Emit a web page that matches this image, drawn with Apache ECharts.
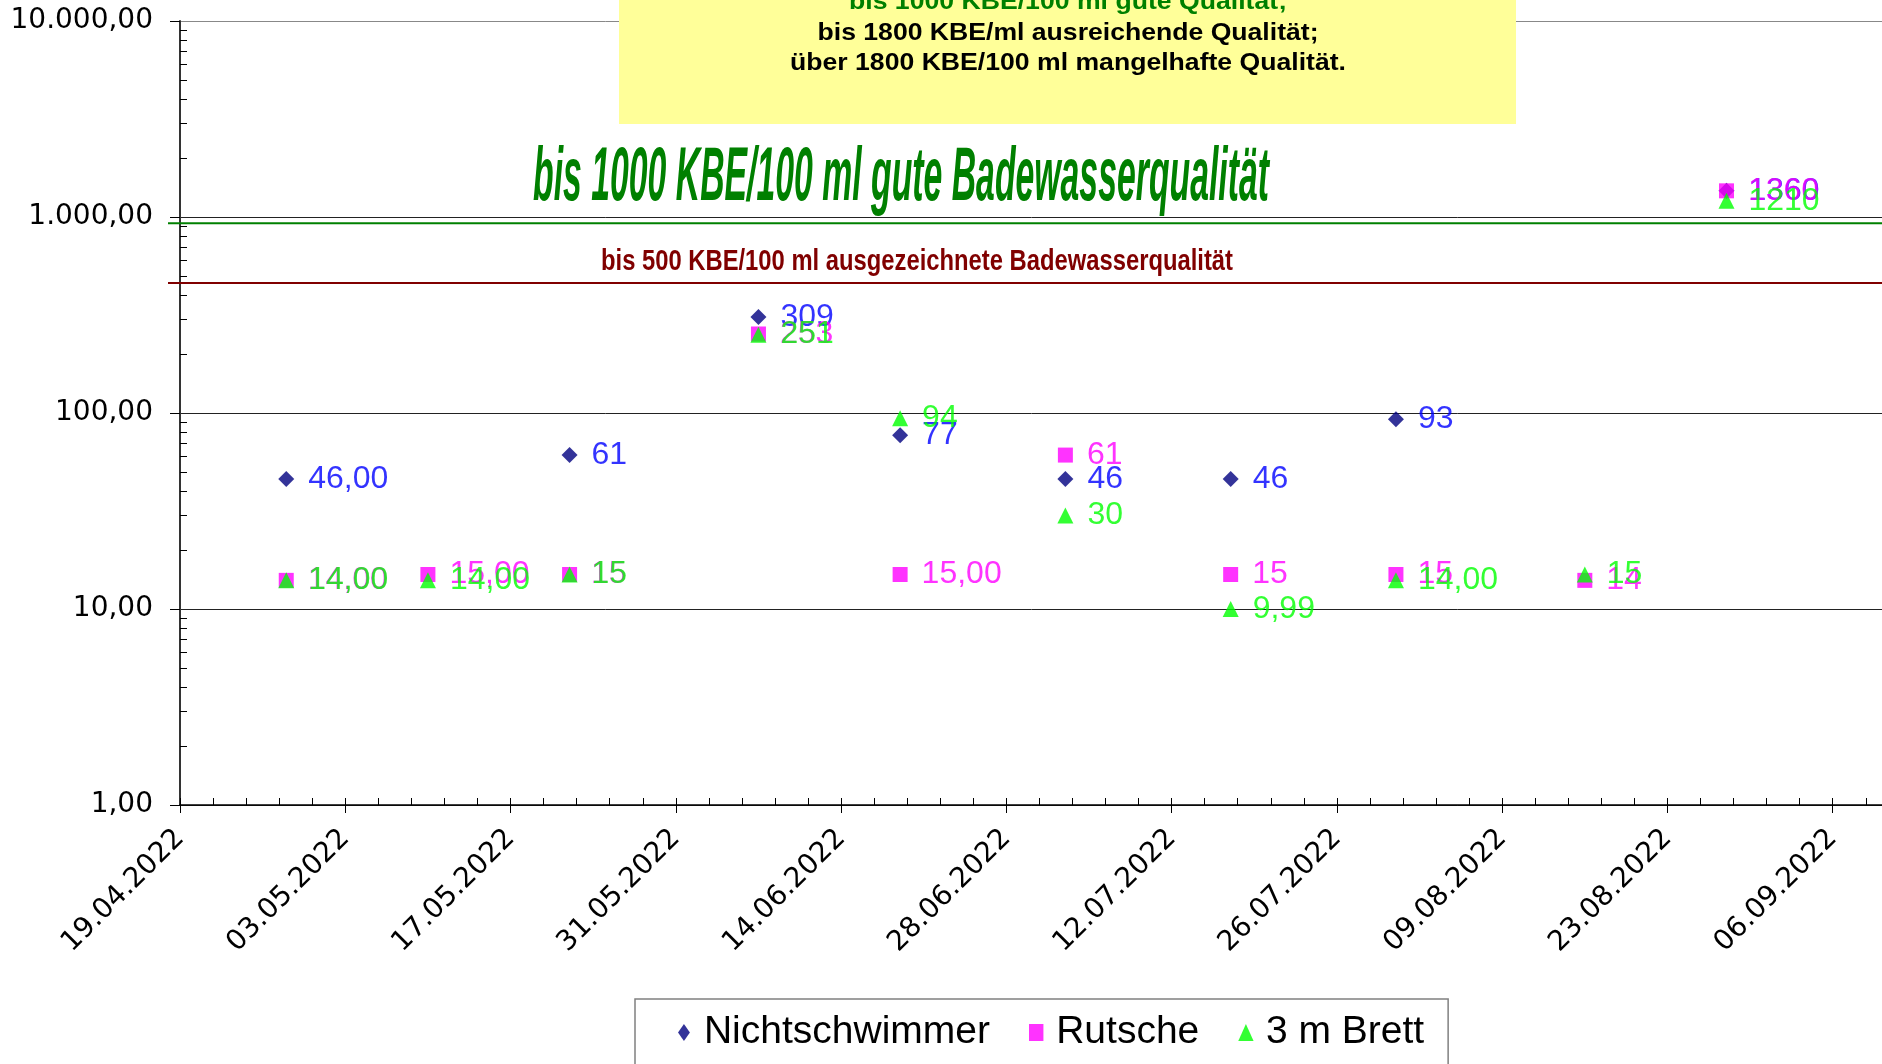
<!DOCTYPE html>
<html>
<head>
<meta charset="utf-8">
<script src="https://cdn.jsdelivr.net/npm/echarts@6/dist/echarts.min.js"></script>
<style>
html,body{margin:0;padding:0;background:#fff;}
#chart{width:1882px;height:1064px;}
</style>
</head>
<body>
<div id="chart"></div>
<script>
// ---------------- data ----------------
const AXIS_START = '19.04.2022';
const dates = ['28.04.2022','10.05.2022','22.05.2022','07.06.2022','19.06.2022','03.07.2022','17.07.2022','31.07.2022','16.08.2022','28.08.2022'];
const seriesNames = ['Nichtschwimmer', 'Rutsche', '3 m Brett'];
const nichtschwimmer = [46, null, 61, 309, 77, 46, 46, 93, null, 1360];
const rutsche        = [14, 15, 15, 253, 15, 61, 15, 15, 14, 1360];
const brett          = [14, 14, 15, 251, 94, 30, 9.99, 14, 15, 1210];
// decimals shown in each point's label
const nichtschwimmerDec = [2, null, 0, 0, 0, 0, 0, 0, null, 0];
const rutscheDec        = [2, 2, 0, 0, 2, 0, 0, 0, 0, 0];
const brettDec          = [2, 2, 0, 0, 0, 0, 2, 2, 0, 0];
const yTickValues = [1, 10, 100, 1000, 10000];
const limitGood = 930;        // green line (drawn just under 1000)
const limitExcellent = 460;   // dark red line (drawn near 500)
const boxLines = ['bis 1000 KBE/100 ml gute Qualität;', 'bis 1800 KBE/ml ausreichende Qualität;', 'über 1800 KBE/100 ml mangelhafte Qualität.'];
const bigGreenText = 'bis 1000 KBE/100 ml gute Badewasserqualität';
const redText = 'bis 500 KBE/100 ml ausgezeichnete Badewasserqualität';

// ---------------- helpers ----------------
function parseDE(s){ const p = s.split('.').map(Number); return Date.UTC(p[2], p[1]-1, p[0]); }
function dayOffset(s){ return Math.round((parseDE(s) - parseDE(AXIS_START)) / 86400000); }
function dayToDate(d){
  const t = new Date(parseDE(AXIS_START) + Math.round(d)*86400000);
  const dd = String(t.getUTCDate()).padStart(2,'0');
  const mm = String(t.getUTCMonth()+1).padStart(2,'0');
  return dd + '.' + mm + '.' + t.getUTCFullYear();
}
function fmtDE(v, dec, thousands){
  const s = v.toFixed(dec);
  let [ip, fp] = s.split('.');
  if (thousands) ip = ip.replace(/\B(?=(\d{3})+(?!\d))/g, '.');
  return fp ? ip + ',' + fp : ip;
}
function buildData(vals, decs){
  const out = [];
  dates.forEach((d, i) => { if (vals[i] != null) out.push({ value: [dayOffset(d), vals[i]], dec: decs[i] }); });
  return out;
}
const mctx = document.createElement('canvas').getContext('2d');
function fitScale(text, font, width){ mctx.font = font; return width / mctx.measureText(text).width; }

const FONT = '"Liberation Sans", Arial, sans-serif';
const AXFONT = '"DejaVu Sans", Verdana, sans-serif';

function mkSeries(name, vals, decs, symbol, size, color, labelColor){
  return {
    name, type: 'scatter', data: buildData(vals, decs),
    symbol, symbolSize: size,
    itemStyle: { color },
    label: {
      show: true, position: 'right', distance: 14,
      color: labelColor, fontSize: 32, fontFamily: FONT,
      formatter: p => fmtDE(p.data.value[1], p.data.dec, false)
    },
    emphasis: { disabled: true }
  };
}

const chart = echarts.init(document.getElementById('chart'), null, { renderer: 'canvas' });
const option = {
  animation: false,
  backgroundColor: '#fff',
  grid: { left: 180, top: 21, right: -116, bottom: 259, outerBoundsMode: 'none', containLabel: false },
  xAxis: [{
    type: 'value', min: 0, max: 154, interval: 14, position: 'bottom',
    axisLine: { show: true, onZero: false, lineStyle: { color: '#000', width: 1.5 } },
    axisTick: { show: true, inside: false, length: 8, lineStyle: { color: '#000' } },
    splitLine: { show: false },
    axisLabel: {
      rotate: 45, margin: 29, showMaxLabel: false, hideOverlap: false,
      fontSize: 28, fontFamily: AXFONT, color: '#000',
      formatter: v => dayToDate(v)
    }
  }, {
    type: 'value', min: 0, max: 154, interval: 14, position: 'bottom', offset: 0,
    axisLine: { show: false },
    axisTick: { show: true, inside: true, length: 7, lineStyle: { color: '#000' } },
    minorTick: { show: true, splitNumber: 5, length: 7, lineStyle: { color: '#000' } },
    splitLine: { show: false },
    axisLabel: { show: false }
  }],
  yAxis: {
    type: 'log', logBase: 10, min: yTickValues[0], max: yTickValues[yTickValues.length-1],
    axisLine: { show: true, lineStyle: { color: '#333', width: 2 } },
    axisTick: { show: true, inside: false, length: 10, lineStyle: { color: '#000' } },
    splitLine: { show: true, lineStyle: { color: ['#222','#222','#222','#222','#888'], width: 1 } },
    axisLabel: { fontSize: 28, fontFamily: AXFONT, color: '#000', margin: 27, formatter: v => fmtDE(v, 2, true) }
  },
  legend: {
    data: [
      { name: seriesNames[0], icon: 'path://M0.35,0L0.7,0.5L0.35,1L0,0.5Z' },
      { name: seriesNames[1], icon: 'path://M0,0H0.85V1H0Z' },
      { name: seriesNames[2], icon: 'path://M0.45,0L0.9,1H0Z' }
    ],
    symbolKeepAspect: true,
    left: 635, top: 999,
    padding: [14, 24, 60, 43],
    itemWidth: 30, itemHeight: 17, itemGap: 39,
    borderColor: '#808080', borderWidth: 1.5,
    textStyle: { fontSize: 39, fontFamily: FONT, color: '#000' },
    selectedMode: false
  },
  series: [
    mkSeries(seriesNames[0], nichtschwimmer, nichtschwimmerDec, 'diamond', 16, '#000080', '#0000ff'),
    mkSeries(seriesNames[1], rutsche, rutscheDec, 'rect', 15, '#ff00ff', '#ff00ff'),
    mkSeries(seriesNames[2], brett, brettDec, 'triangle', 16, '#00ff00', '#00ff00')
  ]
};
chart.setOption(option);

// ---------------- annotations (graphic) ----------------
const yPix = v => chart.convertToPixel({ yAxisIndex: 0 }, v);
const xLeft = chart.convertToPixel({ xAxisIndex: 0 }, 0);
const g = [];
// minor y ticks (2..9 per decade)
for (let k = 0; k < 4; k++) {
  for (let m = 2; m <= 9; m++) {
    const y = Math.round(yPix(m * Math.pow(10, k))) + 0.5;
    g.push({ type: 'line', z: 50, shape: { x1: xLeft, y1: y, x2: xLeft + 7, y2: y }, style: { stroke: '#000', lineWidth: 1 } });
  }
}
// threshold lines
const yG = yPix(limitGood), yR = yPix(limitExcellent);
g.push({ type: 'line', z: 60, shape: { x1: xLeft - 12, y1: yG, x2: 1882, y2: yG }, style: { stroke: '#008000', lineWidth: 2 } });
g.push({ type: 'line', z: 60, shape: { x1: xLeft - 12, y1: yR, x2: 1882, y2: yR }, style: { stroke: '#800000', lineWidth: 2 } });
// yellow box
g.push({ type: 'rect', z: 100, shape: { x: 619, y: 0, width: 897, height: 124 }, style: { fill: '#ffff99' } });
const boxFont = 'bold 24px "Liberation Sans"';
const boxWidths = [438, 501, 556];
const boxY = [2, 33, 63];
const boxColors = ['#008000', '#000', '#000'];
boxLines.forEach((t, i) => {
  g.push({ type: 'text', z: 101, x: 1068, y: boxY[i], scaleX: fitScale(t, boxFont, boxWidths[i]),
    style: { text: t, font: boxFont, fill: boxColors[i], align: 'center', verticalAlign: 'middle' } });
});
// big green text
const bigFont = 'italic bold 76px "Liberation Sans"';
g.push({ type: 'text', z: 101, x: 901, y: 179, scaleX: fitScale(bigGreenText, bigFont, 736),
  style: { text: bigGreenText, font: bigFont, fill: '#008000', align: 'center', verticalAlign: 'middle',
    shadowColor: 'rgba(0,0,0,0.25)', shadowBlur: 2, shadowOffsetX: 2, shadowOffsetY: 2 } });
// dark red text
const redFont = 'bold 29px "Liberation Sans"';
g.push({ type: 'text', z: 101, x: 917, y: 262, scaleX: fitScale(redText, redFont, 632),
  style: { text: redText, font: redFont, fill: '#800000', align: 'center', verticalAlign: 'middle',
    shadowColor: 'rgba(0,0,0,0.25)', shadowBlur: 1, shadowOffsetX: 1, shadowOffsetY: 1 } });
chart.setOption({ graphic: g });
</script>
</body>
</html>
